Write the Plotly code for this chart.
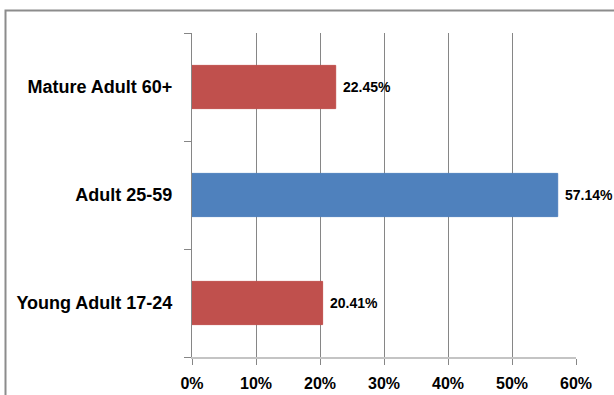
import plotly.graph_objects as go

categories = ["Young Adult 17-24", "Adult 25-59", "Mature Adult 60+"]
values = [0.2041, 0.5714, 0.2245]
bar_colors = ["#C0504D", "#4F81BD", "#C0504D"]
tick_vals = [0, 0.1, 0.2, 0.3, 0.4, 0.5, 0.6]
tick_text = ["0%", "10%", "20%", "30%", "40%", "50%", "60%"]

FONT = "Liberation Sans, Arial, sans-serif"

fig = go.Figure()
fig.add_trace(go.Bar(
    x=values, y=categories, orientation="h",
    marker=dict(color=bar_colors, line=dict(color=bar_colors, width=1)),
    hoverinfo="skip",
))

for v, c in zip(values, categories):
    fig.add_annotation(
        x=v, y=c, xref="x", yref="y", text=f"<b>{v*100:.2f}%</b>",
        showarrow=False, xanchor="left", yanchor="middle", xshift=5,
        font=dict(family=FONT, size=14, color="#000000", weight="bold"),
    )

W, H = 614, 395
L, R, T, B = 192, 38, 33, 38
pw, ph = W - L - R, H - T - B
def px(xp):
    return (xp - L) / pw
def py(yp):
    return (H - B - yp) / ph
fig.add_shape(type="rect", xref="paper", yref="paper",
              x0=px(5.5), x1=px(W + 20), y0=py(H + 20), y1=py(10.5),
              line=dict(color="#8c8c8c", width=2), fillcolor="rgba(0,0,0,0)", layer="below")

fig.update_layout(
    width=W, height=H,
    margin=dict(l=L, r=R, t=T, b=B, pad=0, autoexpand=False),
    paper_bgcolor="white", plot_bgcolor="white",
    showlegend=False,
    bargap=0.6,
    font=dict(family=FONT, color="#000000"),
    xaxis=dict(
        range=[0, 0.6], tickvals=tick_vals, ticktext=tick_text,
        showgrid=True, gridcolor="#868686", gridwidth=1,
        zeroline=False, automargin=False,
        showline=True, linecolor="#c4c4c4", linewidth=2,
        ticks="outside", ticklen=6, tickcolor="#868686", tickwidth=1,
        tickfont=dict(family=FONT, size=16, color="#000000", weight="bold"),
        ticklabelstandoff=5,
        fixedrange=True,
    ),
    yaxis=dict(
        categoryorder="array", categoryarray=categories,
        showgrid=False, zeroline=False, automargin=False,
        showline=True, linecolor="#868686", linewidth=1,
        ticks="outside", tickson="boundaries", ticklen=7,
        tickcolor="#868686", tickwidth=1,
        tickfont=dict(family=FONT, size=18, color="#000000", weight="bold"),
        ticklabelstandoff=15,
        fixedrange=True,
    ),
)

fig.write_html("out.html")
